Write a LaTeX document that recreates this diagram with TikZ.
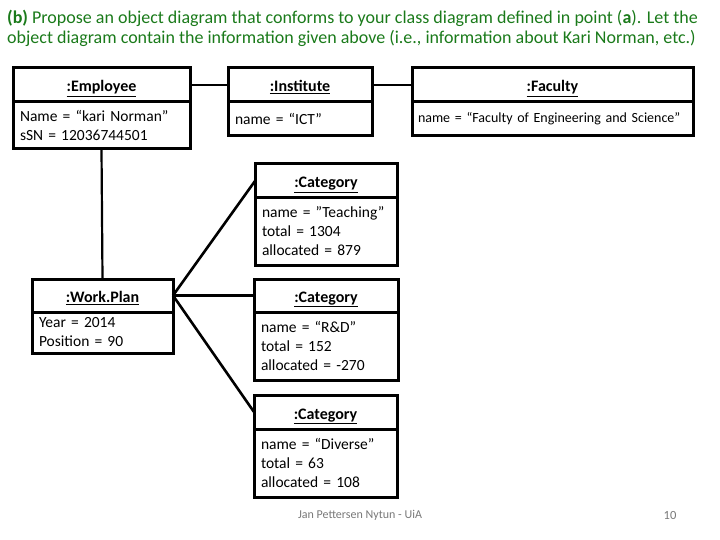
\documentclass[tikz,border=0pt]{standalone}
\usepackage{fontspec}
\setmainfont{Carlito}
\definecolor{titlegreen}{RGB}{26,122,26}
\definecolor{footgray}{RGB}{120,120,120}
\begin{document}
\begin{tikzpicture}[x=1pt,y=-1pt,
  box/.style={draw,line width=3pt,anchor=north west,inner sep=0pt,outer sep=0pt},
  headbox/.style={box,font=\bfseries\fontsize{16}{19}\selectfont,text height=15pt,text depth=1pt},
  bodybox/.style={box,align=left,inner xsep=7pt,font=\fontsize{15.5}{19}\selectfont},
  link/.style={line width=2.6pt}]
\useasboundingbox (0,0) rectangle (720,540);
% title
\node[anchor=west,text=titlegreen,font=\fontsize{18}{20}\selectfont,inner sep=0pt] (t1) at (7,18)
  {\textbf{(b)} Propose an object diagram that conforms to your class diagram defined in point (\textbf{a}). Let the};
\node[anchor=west,text=titlegreen,font=\fontsize{18}{20}\selectfont,inner sep=0pt] (t2) at (7,38)
  {object diagram contain the information given above (i.e., information about Kari Norman, etc.)};
% Employee
\node[headbox,minimum width=177,minimum height=34] (emph) at (13,68) {\underline{:Employee}};
\node[bodybox,minimum width=177,minimum height=47,text width=163] (empb) at (13,102)
  {Name = “kari Norman”\\sSN = 12036744501};
% Institute
\node[headbox,minimum width=144,minimum height=34] (insth) at (228,68) {\underline{:Institute}};
\node[bodybox,minimum width=144,minimum height=34,text width=130] (instb) at (228,102)
  {name = “ICT”};
% Faculty
\node[headbox,minimum width=281,minimum height=34] (facth) at (412,68) {\underline{:Faculty}};
\node[bodybox,minimum width=281,minimum height=34,text width=269,inner xsep=6pt,font=\fontsize{14}{15}\selectfont] (factb) at (412,102)
  {name = “Faculty of Engineering and Science”};
% Teaching
\node[headbox,minimum width=142,minimum height=34] (teah) at (255,164) {\underline{:Category}};
\node[bodybox,minimum width=142,minimum height=67,text width=128] (teab) at (255,198)
  {name = ”Teaching”\\total = 1304\\allocated = 879};
% WorkPlan
\node[headbox,minimum width=141,minimum height=33] (wph) at (32,279) {\underline{:Work.Plan}};
\node[bodybox,minimum width=141,minimum height=41,text width=127] (wpb) at (32,312)
  {Year = 2014\\Position = 90};
% R&D
\node[headbox,minimum width=144,minimum height=33] (rdh) at (254,279) {\underline{:Category}};
\node[bodybox,minimum width=144,minimum height=68,text width=130] (rdb) at (254,312)
  {name = “R\&D”\\total = 152\\allocated = -270};
% Diverse
\node[headbox,minimum width=143,minimum height=34] (divh) at (254,395) {\underline{:Category}};
\node[bodybox,minimum width=143,minimum height=68,text width=129] (divb) at (254,429)
  {name = “Diverse”\\total = 63\\allocated = 108};
% connectors
\draw[link] (emph.east) -- (insth.west);
\draw[link] (insth.east) -- (facth.west);
\draw[link,line width=2.2pt] (empb.south) -- (wph.north);
\draw[link] (wph.east) -- (teah.west);
\draw[link] (wph.east) -- (rdh.west);
\draw[link] (wph.east) -- (divh.west);
% footer
\node[text=footgray,font=\fontsize{12}{14}\selectfont,inner sep=0pt] (foot) at (360,515) {Jan Pettersen Nytun - UiA};
\node[text=footgray,font=\fontsize{12.5}{14}\selectfont,inner sep=0pt] (page) at (670,515) {10};
\end{tikzpicture}
\end{document}
